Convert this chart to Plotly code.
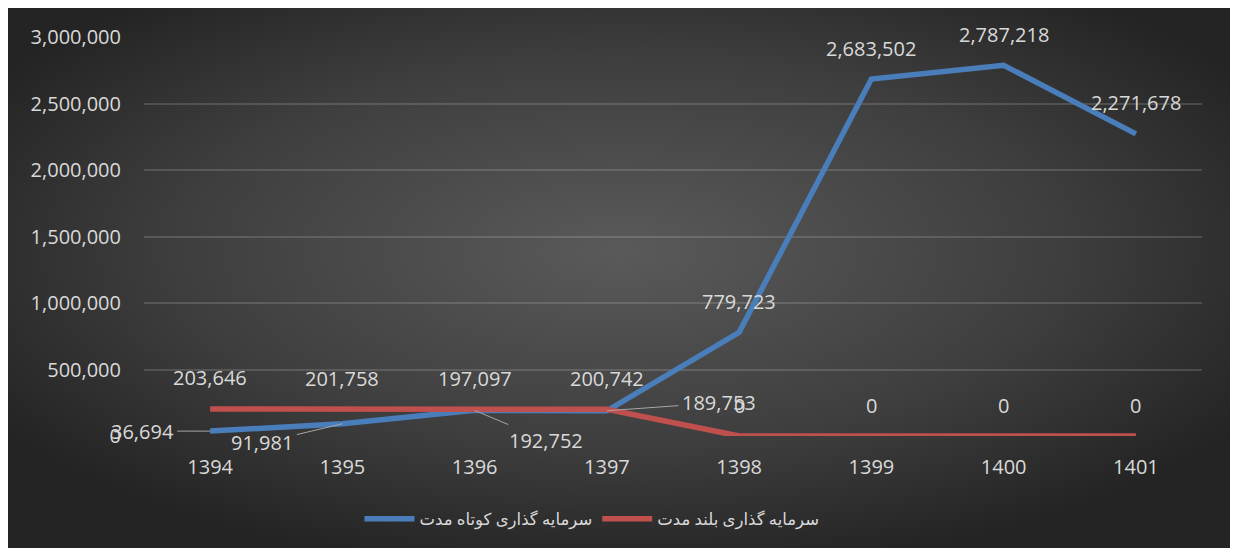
import base64
import plotly.graph_objects as go

years = ["1394", "1395", "1396", "1397", "1398", "1399", "1400", "1401"]
short_term = [36694, 91981, 192752, 189753, 779723, 2683502, 2787218, 2271678]
long_term = [203646, 201758, 197097, 200742, 0, 0, 0, 0]
name_short = "سرمایه گذاری کوتاه مدت"
name_long = "سرمایه گذاری بلند مدت"
y_ticks = [0, 500000, 1000000, 1500000, 2000000, 2500000, 3000000]

BLUE = "#4a7ebb"
RED = "#c0504d"
TXT = "#d9d9d9"
FONT = "Open Sans, DejaVu Sans, sans-serif"

fig = go.Figure()
fig.add_trace(go.Scatter(x=years, y=short_term, mode="lines", name=name_short,
                         line=dict(color=BLUE, width=5.5)))
fig.add_trace(go.Scatter(x=years, y=long_term, mode="lines", name=name_long,
                         line=dict(color=RED, width=5.5)))

# data labels (annotation x given as category index)
leader = {0: (-68, 0), 1: (-80, 19), 2: (71, 30), 3: (112, -8)}
for i, v in enumerate(short_term):
    if i in leader:
        ax, ay = leader[i]
        fig.add_annotation(x=i, y=v, text=f"{v:,}", showarrow=True,
                           arrowhead=0, arrowwidth=1, arrowcolor="#a6a6a6",
                           ax=ax, ay=ay, standoff=0, startstandoff=2,
                           font=dict(family=FONT, size=20, color=TXT))
    else:
        fig.add_annotation(x=i, y=v, text=f"{v:,}", showarrow=False,
                           yshift=31, font=dict(family=FONT, size=20, color=TXT))
for i, v in enumerate(long_term):
    fig.add_annotation(x=i, y=v, text=f"{v:,}", showarrow=False,
                       yshift=31, font=dict(family=FONT, size=20, color=TXT))

svg = """<svg xmlns='http://www.w3.org/2000/svg' width='1225' height='540' preserveAspectRatio='none'>
<defs><radialGradient id='g' cx='50%' cy='45%' r='60%'>
<stop offset='0%' stop-color='#5a5a5a'/>
<stop offset='60%' stop-color='#3e3e3e'/>
<stop offset='100%' stop-color='#242424'/>
</radialGradient></defs>
<rect width='1225' height='540' fill='url(#g)'/></svg>"""
src = "data:image/svg+xml;base64," + base64.b64encode(svg.encode()).decode()

# page body has an 8px margin; figure coordinates are page - 8
OFF = 8
W, H = 1238, 552
L = 144 - OFF
T = 37 - OFF
R = W - (1202 - OFF)
B = H - (436 - OFF)
pw, ph = W - L - R, H - T - B
x0 = (7 - OFF - L) / pw
x1 = (1232 - OFF - L) / pw
ytop = (H - B - (8 - OFF)) / ph
ybot = (H - B - (548 - OFF)) / ph
fig.add_layout_image(source=src, xref="paper", yref="paper", x=x0, y=ytop,
                     sizex=x1 - x0, sizey=ytop - ybot, sizing="stretch",
                     xanchor="left", yanchor="top", layer="below")

fig.update_layout(
    width=W, height=H,
    margin=dict(l=L, r=R, t=T, b=B),
    paper_bgcolor="white", plot_bgcolor="rgba(0,0,0,0)",
    font=dict(family=FONT, size=20, color=TXT),
    showlegend=True,
    legend=dict(orientation="h", x=0.4234, xanchor="center", y=-0.208, yanchor="middle",
                font=dict(family=FONT, size=16.5, color=TXT), bgcolor="rgba(0,0,0,0)",
                itemwidth=50, tracegroupgap=0),
    xaxis=dict(type="category", range=[-0.5, 7.5], showgrid=False, zeroline=False,
               showline=False, ticks="", tickfont=dict(size=20, color=TXT),
               ticklabelstandoff=17),
    yaxis=dict(range=[0, 3000000], tickvals=y_ticks, tickformat=",",
               showgrid=True, gridcolor="rgba(217,217,217,0.18)", gridwidth=1.5,
               zeroline=False, showline=False, ticks="",
               tickfont=dict(size=20, color=TXT), ticklabelstandoff=22),
)

fig.write_html("out.html")
